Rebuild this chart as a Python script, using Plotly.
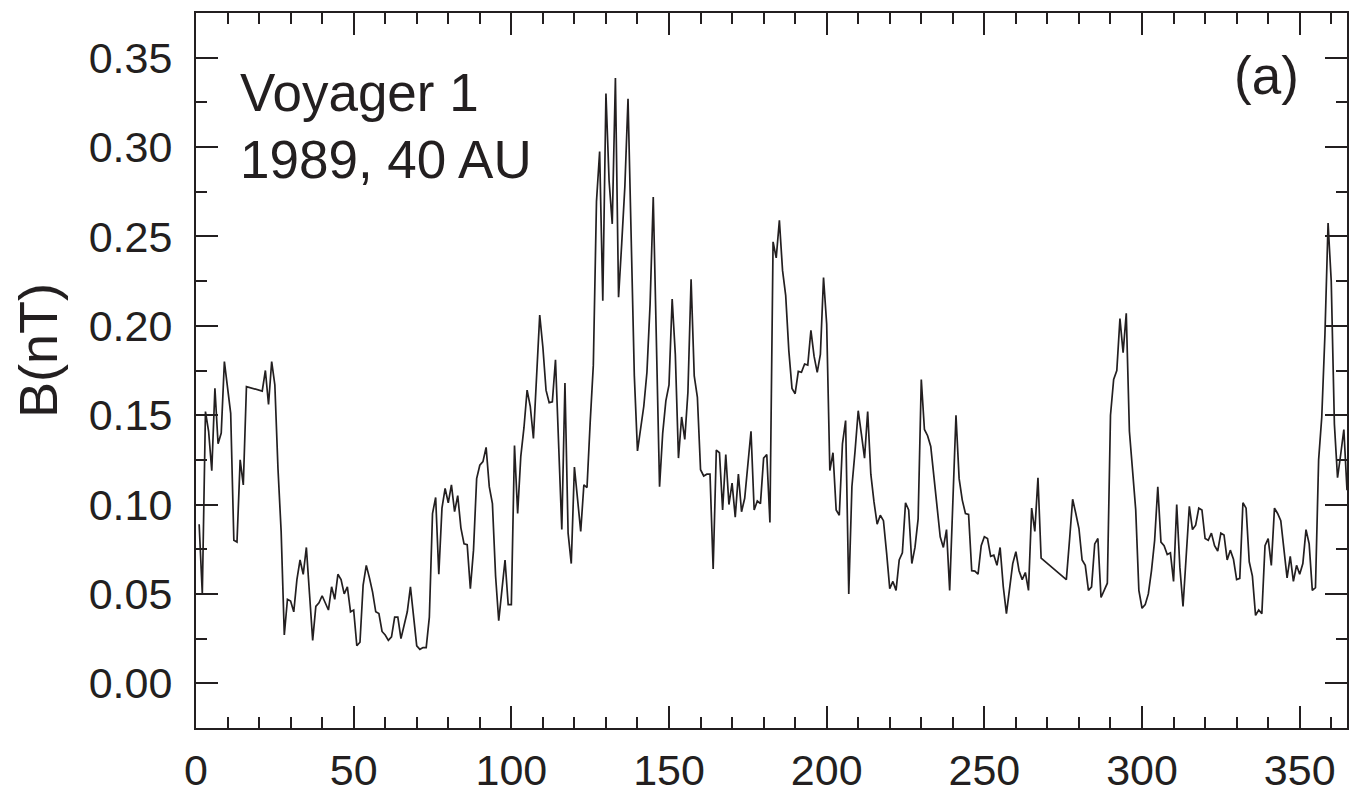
import plotly.graph_objects as go

# Day of year 1989 (days 269-275 have no data: the line jumps straight across)
days = list(range(1, 269)) + list(range(276, 366))

b_nt = [
    0.089, 0.050, 0.152, 0.141, 0.119, 0.165, 0.134, 0.140, 0.180, 0.165,   # 1-10
    0.151, 0.080, 0.079, 0.125, 0.111, 0.166, 0.1655, 0.165, 0.1645, 0.164, # 11-20
    0.1635, 0.175, 0.156, 0.180, 0.167, 0.120, 0.085, 0.027, 0.047, 0.046,  # 21-30
    0.040, 0.058, 0.069, 0.061, 0.076, 0.050, 0.024, 0.043, 0.045, 0.049,   # 31-40
    0.045, 0.041, 0.054, 0.047, 0.061, 0.058, 0.050, 0.054, 0.040, 0.041,   # 41-50
    0.021, 0.023, 0.055, 0.066, 0.059, 0.051, 0.040, 0.039, 0.029, 0.027,   # 51-60
    0.024, 0.026, 0.037, 0.037, 0.025, 0.032, 0.040, 0.054, 0.037, 0.021,   # 61-70
    0.019, 0.020, 0.020, 0.037, 0.095, 0.104, 0.061, 0.098, 0.109, 0.101,   # 71-80
    0.111, 0.096, 0.105, 0.087, 0.078, 0.0775, 0.053, 0.0745, 0.1145, 0.122, # 81-90
    0.124, 0.132, 0.110, 0.1005, 0.060, 0.035, 0.052, 0.069, 0.044, 0.044,  # 91-100
    0.133, 0.095, 0.127, 0.143, 0.164, 0.155, 0.137, 0.168, 0.206, 0.188,   # 101-110
    0.164, 0.157, 0.1575, 0.181, 0.128, 0.086, 0.168, 0.084, 0.067, 0.121,  # 111-120
    0.103, 0.085, 0.111, 0.1095, 0.146, 0.178, 0.2695, 0.2975, 0.214, 0.330, # 121-130
    0.281, 0.257, 0.3386, 0.216, 0.246, 0.278, 0.327, 0.250, 0.172, 0.130,  # 131-140
    0.142, 0.155, 0.174, 0.212, 0.272, 0.190, 0.110, 0.140, 0.158, 0.167,   # 141-150
    0.215, 0.184, 0.126, 0.149, 0.1365, 0.163, 0.226, 0.172, 0.160, 0.1195, # 151-160
    0.116, 0.117, 0.117, 0.064, 0.1305, 0.129, 0.097, 0.128, 0.100, 0.112,  # 161-170
    0.093, 0.117, 0.096, 0.1035, 0.1205, 0.141, 0.097, 0.102, 0.1005, 0.126, # 171-180
    0.128, 0.090, 0.247, 0.238, 0.259, 0.231, 0.217, 0.186, 0.165, 0.162,   # 181-190
    0.1745, 0.174, 0.1786, 0.178, 0.1975, 0.183, 0.174, 0.184, 0.227, 0.201, # 191-200
    0.119, 0.129, 0.097, 0.094, 0.134, 0.147, 0.050, 0.110, 0.130, 0.1525,  # 201-210
    0.1395, 0.126, 0.152, 0.117, 0.1015, 0.089, 0.094, 0.091, 0.073, 0.053, # 211-220
    0.057, 0.052, 0.069, 0.073, 0.101, 0.097, 0.067, 0.076, 0.092, 0.170,   # 221-230
    0.142, 0.1385, 0.1325, 0.115, 0.097, 0.082, 0.076, 0.086, 0.052, 0.100, # 231-240
    0.150, 0.1145, 0.1025, 0.095, 0.0945, 0.063, 0.0628, 0.061, 0.077, 0.082, # 241-250
    0.081, 0.071, 0.0717, 0.066, 0.076, 0.054, 0.039, 0.053, 0.067, 0.0736, # 251-260
    0.063, 0.058, 0.062, 0.052, 0.098, 0.085, 0.115, 0.070,                 # 261-268
    0.058, 0.080, 0.103, 0.095, 0.0866,                                     # 276-280
    0.069, 0.066, 0.052, 0.054, 0.078, 0.081, 0.048, 0.052, 0.056, 0.150,   # 281-290
    0.170, 0.175, 0.204, 0.185, 0.207, 0.141, 0.121, 0.097, 0.052, 0.042,   # 291-300
    0.044, 0.050, 0.063, 0.080, 0.110, 0.079, 0.077, 0.072, 0.073, 0.057,   # 301-310
    0.100, 0.065, 0.043, 0.069, 0.099, 0.086, 0.0885, 0.098, 0.097, 0.081,  # 311-320
    0.080, 0.084, 0.077, 0.074, 0.084, 0.083, 0.069, 0.0745, 0.0694, 0.058, # 321-330
    0.0587, 0.101, 0.098, 0.068, 0.060, 0.038, 0.041, 0.039, 0.077, 0.081,  # 331-340
    0.066, 0.098, 0.095, 0.091, 0.0745, 0.059, 0.071, 0.057, 0.066, 0.061,  # 341-350
    0.067, 0.086, 0.078, 0.052, 0.0535, 0.125, 0.149, 0.195, 0.2575, 0.225, # 351-360
    0.145, 0.115, 0.128, 0.142, 0.108,                                      # 361-365
]

x_ticks = [0, 50, 100, 150, 200, 250, 300, 350]
y_ticks = [0.00, 0.05, 0.10, 0.15, 0.20, 0.25, 0.30, 0.35]

INK = "#231f20"
FONT = "Liberation Sans, Arial, sans-serif"

fig = go.Figure()
fig.add_trace(go.Scatter(
    x=days, y=b_nt, mode="lines",
    line=dict(color=INK, width=1.7),
    showlegend=False, hoverinfo="skip",
))

axis_common = dict(
    showgrid=False, zeroline=False, automargin=False,
    showline=True, linecolor=INK, linewidth=2, mirror="ticks",
    ticks="inside", ticklen=22, tickwidth=2, tickcolor=INK,
    tickfont=dict(family=FONT, size=43, color=INK),
)

fig.update_xaxes(
    range=[0, 365], tickmode="array", tickvals=x_ticks,
    ticktext=[str(v) for v in x_ticks],
    minor=dict(dtick=10, tick0=0, ticks="inside", ticklen=11, tickwidth=2, tickcolor=INK),
    ticklabelstandoff=3,
    **axis_common,
)
fig.update_yaxes(
    range=[-0.025, 0.375], tickmode="array", tickvals=y_ticks,
    ticktext=[f"{v:.2f}" for v in y_ticks],
    minor=dict(dtick=0.025, tick0=0, ticks="inside", ticklen=11, tickwidth=2, tickcolor=INK),
    ticklabelstandoff=13,
    **axis_common,
)

L, R, T, B = 196, 2, 13, 67
W, H = 1349, 795
pw, ph = W - L - R, H - T - B

def px_to_paper(px, py):
    return (px - L) / pw, (H - B - py) / ph

annotations = []
x0, y0 = px_to_paper(238, 92)
annotations.append(dict(text="Voyager 1", x=x0, y=y0, xref="paper", yref="paper",
                        xanchor="left", yanchor="middle", showarrow=False,
                        font=dict(family=FONT, size=53, color=INK)))
x1, y1 = px_to_paper(238, 160)
annotations.append(dict(text="1989, 40 AU", x=x1, y=y1, xref="paper", yref="paper",
                        xanchor="left", yanchor="middle", showarrow=False,
                        font=dict(family=FONT, size=53, color=INK)))
x2, y2 = px_to_paper(1301, 76)
annotations.append(dict(text="(a)", x=x2, y=y2, xref="paper", yref="paper",
                        xanchor="right", yanchor="middle", showarrow=False,
                        font=dict(family=FONT, size=53, color=INK)))
x3, y3 = px_to_paper(38, 350)
annotations.append(dict(text="B(nT)", x=x3, y=y3, xref="paper", yref="paper",
                        xanchor="center", yanchor="middle", textangle=-90, showarrow=False,
                        font=dict(family=FONT, size=54, color=INK)))

fig.update_layout(
    width=W, height=H,
    margin=dict(l=L, r=R, t=T, b=B, pad=0, autoexpand=False),
    paper_bgcolor="white", plot_bgcolor="white",
    annotations=annotations,
)

fig.write_html(
    "out.html",
    config={"displayModeBar": False},
    post_script="document.body.style.margin='0';document.body.style.overflow='hidden';",
)
